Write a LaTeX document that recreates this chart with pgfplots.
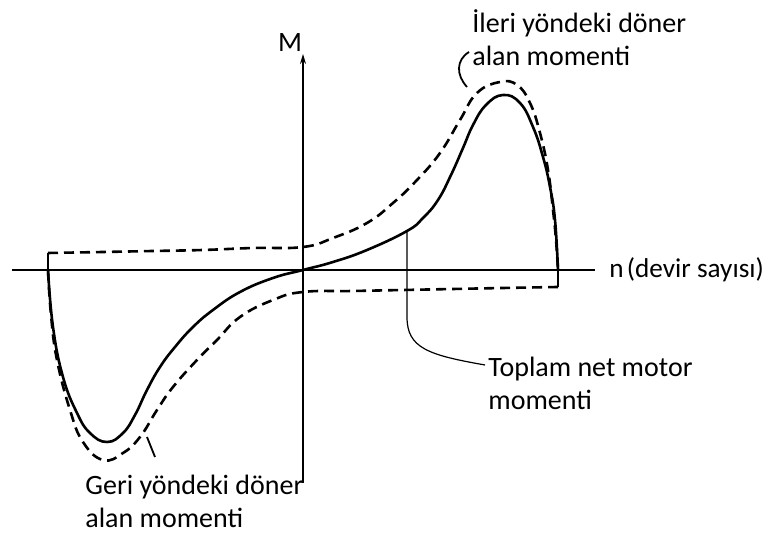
\documentclass[border=0pt]{standalone}
\usepackage{pgfplots}
\pgfplotsset{compat=1.18}
\usepackage{fontspec}
\setmainfont{Carlito}
\usetikzlibrary{arrows.meta}
\begin{document}
\begin{tikzpicture}
\begin{axis}[
  x=0.5pt, y=0.5pt,
  xmin=-303, xmax=466, ymin=-263, ymax=270,
  hide axis, clip=false,
]
% axes
\draw[line width=0.7pt] (axis cs:-291,0) -- (axis cs:292,0);
\draw[line width=0.7pt,-{Stealth[length=5pt,width=3pt]}] (axis cs:0,-213) -- (axis cs:0,216);
% forward (ileri) torque, dashed
\addplot[black, line width=1.3pt, dash pattern=on 5pt off 3pt, smooth, tension=0.75] coordinates {
(-255,17) (-200,18) (-150,19) (-100,20) (-50,22) (0,23) (30,32) (64,47) (90,67) (114,90)
(137,117) (157,150) (174,177) (197,188) (214,185) (227,167) (237,137) (245,100)
(250,60) (253,30) (255,0)};
% backward (geri) torque, dashed
\addplot[black, line width=1.3pt, dash pattern=on 5pt off 3pt, smooth, tension=0.75] coordinates {
(255,-17) (200,-18) (150,-19) (100,-20) (50,-21) (0,-22) (-30,-30) (-63,-47) (-86,-70)
(-106,-90) (-130,-117) (-146,-140) (-163,-167) (-180,-183) (-200,-190) (-220,-172)
(-233,-140) (-246,-90) (-252,-45) (-255,0)};
% net torque, solid
\addplot[black, line width=1.3pt] coordinates {(-255,17) (-255,0)};
\addplot[black, line width=1.3pt, smooth, tension=0.75] coordinates {
(-255,0) (-250,-57) (-240,-107) (-226,-143) (-213,-163) (-196,-172) (-180,-163)
(-168,-145) (-156,-120) (-143,-97) (-128,-77) (-110,-57) (-90,-40) (-63,-22) (-30,-8) (0,0)
(30,8) (64,20) (104,39) (120,52) (135,70) (148,95) (160,122) (170,145) (183,165) (200,175)
(217,167) (230,143) (240,113) (247,83) (252,50) (255,0)};
\addplot[black, line width=1.3pt] coordinates {(255,0) (255,-17)};
% leaders
\draw[line width=0.9pt] (axis cs:166,218) .. controls (axis cs:153,210) and (axis cs:153,195) .. (axis cs:164,183);
\draw[line width=0.6pt] (axis cs:104,39) -- (axis cs:104,-47) .. controls (axis cs:104,-78) and (axis cs:125,-85) .. (axis cs:182,-95);
\draw[line width=0.9pt] (axis cs:-156,-167) -- (axis cs:-148,-187);
% labels
\node[font=\fontsize{14}{16}\selectfont, inner sep=0pt] at (axis cs:-13,227) {M};
\node[font=\fontsize{13.6}{16}\selectfont, inner sep=0pt, anchor=west] at (axis cs:306,0) {n\hspace{0.12em}(devir sayısı)};
\node[font=\fontsize{14}{16.5}\selectfont, inner sep=0pt, anchor=west, align=left] at (axis cs:169,232) {İleri yöndeki döner\\alan momenti};
\node[font=\fontsize{14}{16.5}\selectfont, inner sep=0pt, anchor=west, align=left] at (axis cs:185,-113) {Toplam net motor\\momenti};
\node[font=\fontsize{14}{16.5}\selectfont, inner sep=0pt, anchor=west, align=left] at (axis cs:-218,-231) {Geri yöndeki döner\\alan momenti};
\end{axis}
\pgfresetboundingbox
\path (current axis.south west) rectangle (current axis.north east);
\end{tikzpicture}
\end{document}
